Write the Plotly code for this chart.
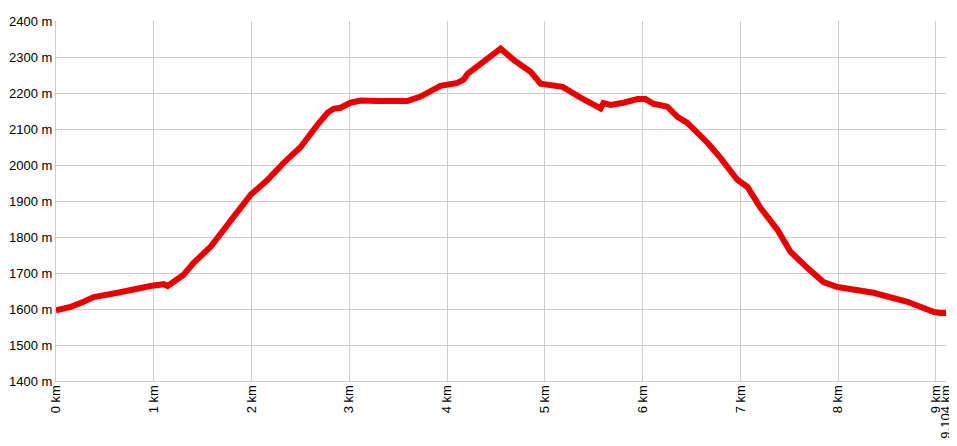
import plotly.graph_objects as go

# Distance along the route (km) and elevation (m)
distance_km = [0.0, 0.15, 0.283, 0.386, 0.631, 0.794, 0.968, 1.101, 1.142, 1.306,
               1.408, 1.582, 1.655, 1.715, 1.817, 1.991, 2.165, 2.329, 2.503, 2.676,
               2.778, 2.839, 2.911, 3.013, 3.115, 3.3, 3.596, 3.729, 3.933, 4.107,
               4.169, 4.21, 4.374, 4.548, 4.681, 4.855, 4.957, 5.09, 5.182, 5.366,
               5.571, 5.6, 5.672, 5.805, 5.948, 6.03, 6.112, 6.254, 6.357, 6.459,
               6.664, 6.797, 6.97, 7.073, 7.206, 7.38, 7.513, 7.687, 7.851, 7.994,
               8.362, 8.71, 8.975, 9.046, 9.104]
elevation_m = [1596, 1606, 1620, 1633, 1645, 1656, 1664, 1669, 1664, 1695,
               1728, 1773, 1800, 1820, 1856, 1917, 1959, 2006, 2050, 2112,
               2145, 2156, 2159, 2173, 2179, 2178, 2178, 2190, 2220, 2228,
               2237, 2253, 2287, 2323, 2292, 2259, 2226, 2220, 2217, 2187,
               2157, 2172, 2167, 2173, 2183, 2183, 2170, 2162, 2134, 2117,
               2062, 2020, 1959, 1939, 1881, 1820, 1759, 1714, 1675, 1661,
               1645, 1620, 1592, 1589, 1589]

x_tick_vals = [0, 1, 2, 3, 4, 5, 6, 7, 8, 9, 9.104]
x_tick_text = ["0 km", "1 km", "2 km", "3 km", "4 km", "5 km", "6 km", "7 km",
               "8 km", "9 km", "9.104 km"]
y_tick_vals = [1400, 1500, 1600, 1700, 1800, 1900, 2000, 2100, 2200, 2300, 2400]
y_tick_text = [f"{v} m" for v in y_tick_vals]

fig = go.Figure()
fig.add_trace(go.Scatter(
    x=distance_km, y=elevation_m, mode="lines",
    line=dict(color="#e80000", width=6),
    hoverinfo="skip", showlegend=False,
))

grid = "#cccccc"
# the page body adds an 8px offset, so the figure is sized to fit the window
fig.update_layout(
    width=949, height=438,
    margin=dict(l=48, r=11, t=13, b=65, autoexpand=False),
    paper_bgcolor="white", plot_bgcolor="white",
    font=dict(family="Liberation Sans, Arial, sans-serif", size=13, color="#000000"),
    xaxis=dict(
        range=[0, 9.104], tickvals=x_tick_vals, ticktext=x_tick_text,
        tickangle=-90, showgrid=True, gridcolor=grid, gridwidth=1,
        showline=True, linecolor=grid, mirror=False, zeroline=False,
        ticks="", tickfont=dict(size=13), fixedrange=True, automargin=False,
        ticklabelstandoff=-2,
    ),
    yaxis=dict(
        range=[1400, 2400], tickvals=y_tick_vals, ticktext=y_tick_text,
        showgrid=True, gridcolor=grid, gridwidth=1,
        showline=True, linecolor=grid, zeroline=False,
        ticks="", tickfont=dict(size=13), fixedrange=True, automargin=False,
    ),
)

fig.write_html("out.html")
